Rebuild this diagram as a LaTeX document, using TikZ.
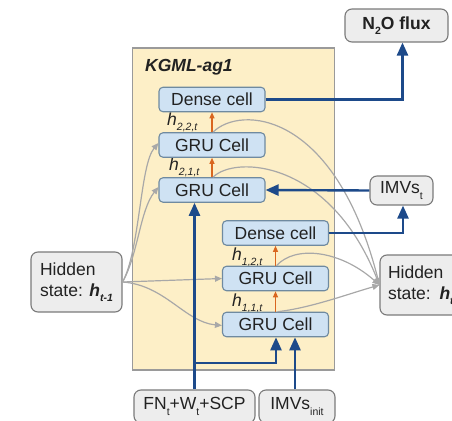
\documentclass[tikz,border=0pt]{standalone}
\usepackage{fontspec}
\setmainfont{Liberation Sans}
\usetikzlibrary{arrows.meta}
\definecolor{ybg}{HTML}{FDEFC7}
\definecolor{ybd}{HTML}{9A9A9A}
\definecolor{cbg}{HTML}{CFE2F3}
\definecolor{cbd}{HTML}{6F8AA0}
\definecolor{gbg}{HTML}{EDEDED}
\definecolor{gbd}{HTML}{7A7A7A}
\definecolor{nav}{HTML}{1D4A8A}
\definecolor{org}{HTML}{D9661F}
\definecolor{gln}{HTML}{A8A8A8}
\definecolor{txt}{HTML}{222222}
\newcommand\sbs[1]{\raisebox{-0.32em}{\fontsize{10.5}{11}\selectfont #1}}
\begin{document}
\begin{tikzpicture}[x=1pt,y=-1pt, font=\fontsize{17.5}{21}\selectfont, text=txt,
 cell/.style={draw=cbd, fill=cbg, line width=1.1pt, rounded corners=4pt, minimum width=106pt, minimum height=24.5pt, inner sep=0pt},
 gbox/.style={draw=gbd, fill=gbg, line width=1.1pt, rounded corners=7pt, inner sep=0pt},
 hbox/.style={gbox, minimum width=91pt, minimum height=60pt, align=left},
 navy/.style={draw=nav, line width=2.4pt, -{Triangle[length=13pt,width=11pt]}},
 orng/.style={draw=org, line width=1.1pt, -{Triangle[length=6pt,width=5pt]}},
 grayl/.style={draw=gln, line width=1.2pt, -{Triangle[length=7pt,width=6pt]}},
 hlab/.style={inner sep=0pt, anchor=base west}]
\useasboundingbox (0,0) rectangle (452,420);
\clip (0,0) rectangle (452,420);
% model box
\node[draw=ybd, fill=ybg, line width=1.3pt, minimum width=202pt, minimum height=322pt, inner sep=0pt] (kg) at (233.5,209) {};
\node[anchor=west, inner sep=0pt, font=\fontsize{17.5}{21}\selectfont\bfseries\itshape] (kgl) at (145,67) {KGML-ag1};
% hidden labels (under the cells)
\node[hlab] (h22) at (167,125) {\textit{h}\sbs{\textit{2,2,t}}};
\node[hlab] (h21) at (169,170) {\textit{h}\sbs{\textit{2,1,t}}};
\node[hlab] (h12) at (232,260) {\textit{h}\sbs{\textit{1,2,t}}};
\node[hlab] (h11) at (232,306) {\textit{h}\sbs{\textit{1,1,t}}};
% cells
\node[cell] (d2) at (212,99.5) {Dense cell};
\node[cell] (g22) at (212,145) {GRU Cell};
\node[cell] (g21) at (212,190) {GRU Cell};
\node[cell] (d1) at (275.5,233) {Dense cell};
\node[cell] (g12) at (275.5,278.5) {GRU Cell};
\node[cell] (g11) at (275.5,324.5) {GRU Cell};
% outer boxes
\node[hbox] (hl) at (76.5,282) {Hidden\\state: \textbf{\textit{h}}\sbs{\textbf{\textit{t-1}}}};
\node[hbox, text width=75pt] (hr) at (425.5,285) {Hidden\\state: \textbf{\textit{h}}\sbs{\textbf{\textit{t}}}};
\node[gbox, minimum width=103pt, minimum height=33pt, font=\fontsize{17.5}{21}\selectfont\bfseries] (n2o) at (396.5,25.5) {N\sbs{2}O flux};
\node[gbox, minimum width=63pt, minimum height=29pt] (imvt) at (401.5,190.5) {IMVs\sbs{t}};
\node[gbox, minimum width=121pt, minimum height=33pt] (fn) at (194.5,406.5) {FN\sbs{t}+W\sbs{t}+SCP};
\node[gbox, minimum width=76pt, minimum height=33pt] (imvi) at (297,406.5) {IMVs\sbs{init}};
% orange arrows
\draw[orng] (g22.north) -- (d2.south);
\draw[orng] (g21.north) -- (g22.south);
\draw[orng] (g12.north) -- (d1.south);
\draw[orng] (g11.north) -- (g12.south);
% gray arrows from h_{t-1}
\draw[grayl] (hl.east) .. controls (140,250) and (140,165) .. ([yshift=2pt]g22.west);
\draw[grayl] (hl.east) .. controls (138,255) and (140,210) .. ([yshift=3pt]g21.west);
\draw[grayl] (hl.east) -- (g12.west);
\draw[grayl] (hl.east) .. controls (165,285) and (185,322) .. ([yshift=-1pt]g11.west);
% gray arrows to h_t
\draw[grayl] ([xshift=1pt]g22.north) .. controls (240,105) and (335,110) .. (hr.west);
\draw[grayl] ([xshift=1pt]g21.north) .. controls (235,155) and (330,160) .. (hr.west);
\draw[grayl] ([xshift=1pt]g12.north) .. controls (295,245) and (340,250) .. (hr.west);
\draw[grayl] ([xshift=2pt]g11.north) .. controls (310,308) and (345,295) .. (hr.west);
% navy arrows
\draw[navy] (d2.east) -| ([xshift=6pt]n2o.south);
\draw[navy] (imvt.west) -- (g21.east);
\draw[navy] (d1.east) -| ([xshift=1.5pt]imvt.south);
\draw[navy] (fn.north) -- (fn.north |- g21.south);
\coordinate (j) at (194.5,363);
\draw[navy] (j) -| ([xshift=0.5pt]g11.south);
\draw[navy] ([xshift=-2pt]imvi.north) -- ([xshift=-2pt]imvi.north |- g11.south);
\end{tikzpicture}
\end{document}
